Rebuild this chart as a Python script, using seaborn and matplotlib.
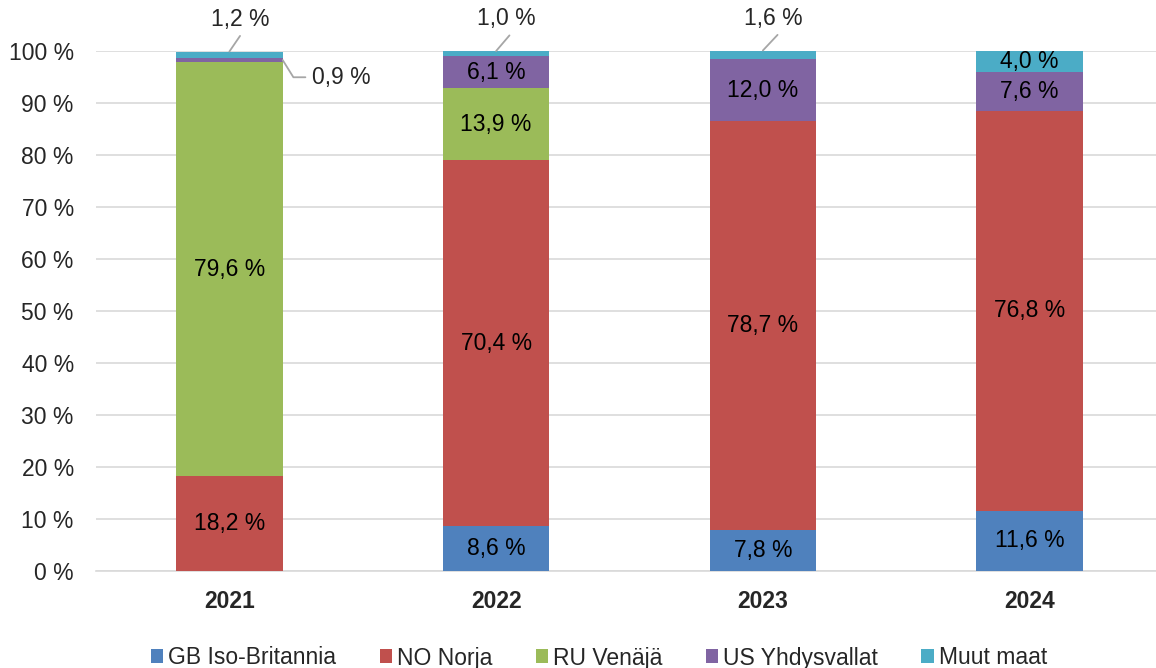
import matplotlib
matplotlib.use("Agg")
import matplotlib.pyplot as plt
import seaborn as sns
import numpy as np
import pandas as pd
from matplotlib.patches import Patch

years = ["2021", "2022", "2023", "2024"]
series_names = ["GB Iso-Britannia", "NO Norja", "RU Venäjä", "US Yhdysvallat", "Muut maat"]
gb = [0.0, 8.6, 7.8, 11.6]
no = [18.2, 70.4, 78.7, 76.8]
ru = [79.6, 13.9, 0.0, 0.0]
us = [0.9, 6.1, 12.0, 7.6]
muut = [1.2, 1.0, 1.6, 4.0]
colors = ["#4f81bd", "#c0504d", "#9bbb59", "#8064a2", "#4bacc6"]

sns.set_style("white")
plt.rcParams['font.family'] = ['Liberation Sans', 'DejaVu Sans']

FS = 16.5

fig = plt.figure(figsize=(11.56, 6.68), dpi=100)
ax = fig.add_axes([96/1156, 1-571/668, 1067/1156, 520/668])

values = [gb, no, ru, us, muut]
cum = np.cumsum(np.array(values), axis=0)

# draw from top (largest cumulative) down so lower segments overlay
for i in range(len(values)-1, -1, -1):
    df = pd.DataFrame({"year": years, "val": cum[i]})
    sns.barplot(data=df, x="year", y="val", color=colors[i], width=0.4,
                saturation=1, ax=ax, zorder=3, edgecolor="none", linewidth=0)

ax.set_xlim(-0.5, 3.5)
ax.set_ylim(0, 100)
ax.set_yticks(range(0, 101, 10))
ax.set_yticklabels([f"{v} %" for v in range(0, 101, 10)], fontsize=FS)
ax.set_xticks(range(4))
ax.set_xticklabels(years, fontsize=FS, fontweight="bold")
ax.tick_params(axis="y", length=0, pad=16)
ax.tick_params(axis="x", length=0, pad=14)
ax.set_xlabel("")
ax.set_ylabel("")
ax.grid(axis="y", color="#d9d9d9", linewidth=1.2, zorder=0)
ax.set_axisbelow(True)
for s in ["top", "right", "left"]:
    ax.spines[s].set_visible(False)
ax.spines["bottom"].set_color("#d9d9d9")
ax.spines["bottom"].set_linewidth(1.2)

def fmt(v):
    return f"{v:.1f}".replace(".", ",") + " %"

small = {(0, 3), (0, 4), (1, 4), (2, 4)}
for i, vals in enumerate(values):
    for j, v in enumerate(vals):
        if v <= 0 or (j, i) in small:
            continue
        y = cum[i][j] - v/2
        ax.text(j, y, fmt(v), ha="center", va="center", fontsize=FS, color="black", zorder=5)

# leader-line labels
lc = "#a6a6a6"
for j, dx in [(0, 0.04), (1, 0.05), (2, 0.055)]:
    top = cum[4][j]
    ax.plot([j, j+dx], [top, top+3], color=lc, lw=1.3, clip_on=False, zorder=5)
    ax.text(j+0.04, top+6.2, fmt(muut[j]), ha="center", va="center", fontsize=FS, clip_on=False)
# 0.9 % label for 2021 US
yu = cum[3][0] - us[0]/2
ax.plot([0.2, 0.24, 0.285], [yu, yu-3.3, yu-3.3], color=lc, lw=1.3, clip_on=False, zorder=5)
ax.text(0.31, yu-3.3, fmt(us[0]), ha="left", va="center", fontsize=FS)

handles = [Patch(facecolor=c, edgecolor="none") for c in colors]
fig.legend(handles, series_names, loc="center", bbox_to_anchor=(0.518, 1-658/668),
           ncol=5, frameon=False, fontsize=FS, handlelength=0.55, handleheight=0.55,
           handletextpad=0.2, columnspacing=1.9)

fig.savefig("out.png", dpi=100)
